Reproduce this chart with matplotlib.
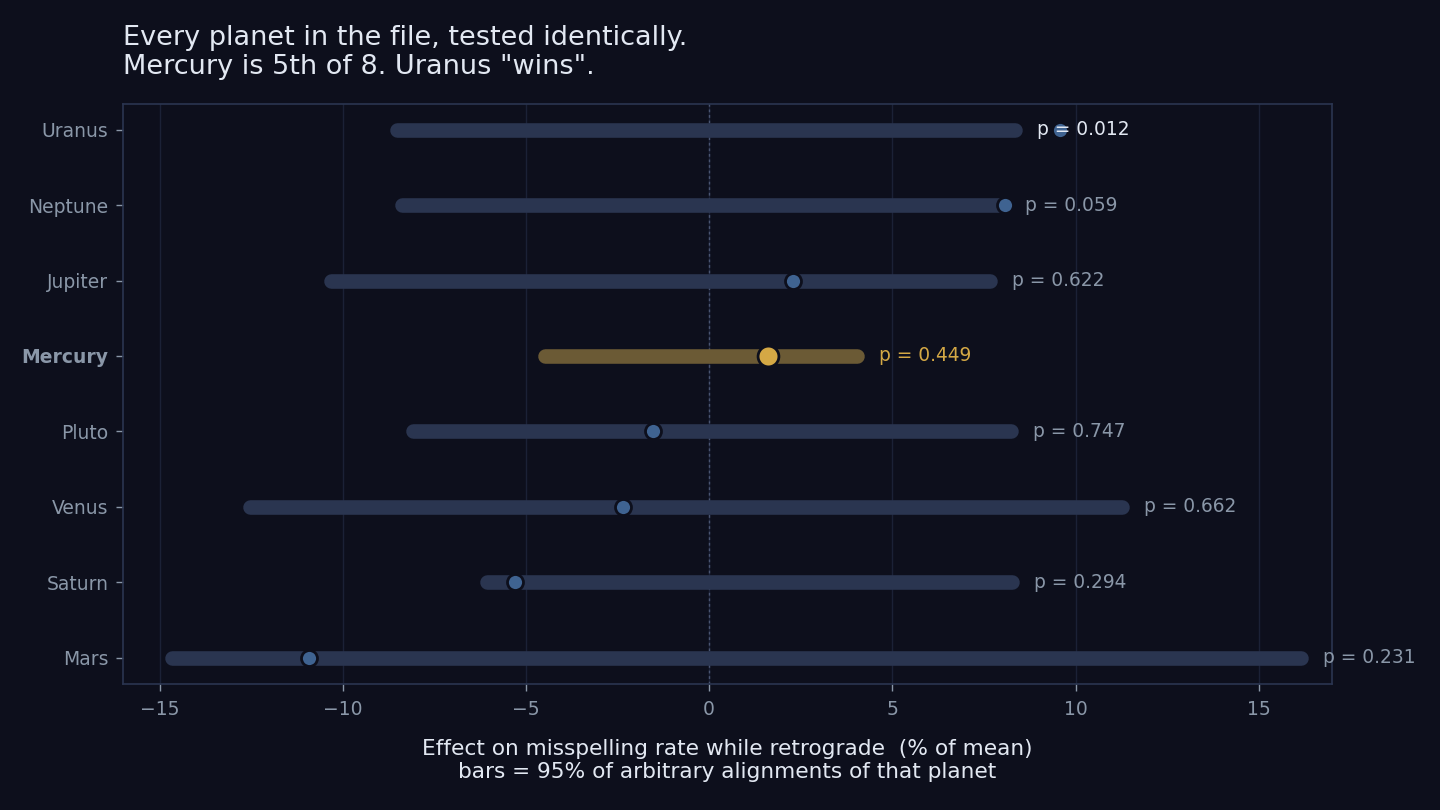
import numpy as np
import matplotlib.pyplot as plt

# planets bottom -> top
planets = ["Mars", "Saturn", "Venus", "Pluto", "Mercury", "Jupiter", "Neptune", "Uranus"]
lo = [-14.67, -6.07, -12.54, -8.09, -4.49, -10.33, -8.39, -8.53]
hi = [16.15, 8.26, 11.26, 8.23, 4.03, 7.66, 8.01, 8.34]
effect = [-10.93, -5.31, -2.36, -1.54, 1.60, 2.28, 8.07, 9.57]
pvals = [0.231, 0.294, 0.662, 0.747, 0.449, 0.622, 0.059, 0.012]

BG = "#0d0f1c"
BAR = "#2a3550"
DOT = "#3f6391"
GOLD = "#d4a845"
GOLD_BAR = "#6b5a35"
MUTED = "#8a97a8"
LIGHT = "#e2e8f2"
GRID = "#1b2136"

fig, ax = plt.subplots(figsize=(14.4, 8.1), dpi=100)
fig.patch.set_facecolor(BG)
ax.set_facecolor(BG)
fig.subplots_adjust(left=0.0854, right=0.925, top=0.872, bottom=0.156)

y = np.arange(len(planets))
for i, name in enumerate(planets):
    star = name == "Mercury"
    ax.plot([lo[i], hi[i]], [i, i], color=GOLD_BAR if star else BAR,
            lw=10.5, solid_capstyle="round", zorder=2)
    ax.plot(effect[i], i, "o", color=GOLD if star else DOT,
            markersize=15 if star else 11.5, markeredgecolor=BG,
            markeredgewidth=2, zorder=3)
    if star:
        c = GOLD
    elif pvals[i] < 0.05:
        c = LIGHT
    else:
        c = MUTED
    ax.text(hi[i] + 0.6, i, f"p = {pvals[i]:.3f}", color=c, fontsize=13.4,
            va="center", ha="left", zorder=4)

ax.axvline(0, color="#4a5572", lw=1, ls=(0, (2, 2)), zorder=1)

ax.set_xlim(-16, 17)
ax.set_ylim(-0.345, 7.345)
ax.set_xticks([-15, -10, -5, 0, 5, 10, 15])
ax.set_xticklabels(["\u221215", "\u221210", "\u22125", "0", "5", "10", "15"])
ax.set_yticks(y)
ax.set_yticklabels(planets)
for lab in ax.get_yticklabels():
    if lab.get_text() == "Mercury":
        lab.set_fontweight("bold")
ax.tick_params(colors=MUTED, labelsize=13.5, length=5, width=1)
ax.tick_params(axis="x", pad=7)
ax.tick_params(axis="y", pad=5.5)
ax.grid(axis="x", color=GRID, lw=1)
ax.set_axisbelow(True)
for s in ax.spines.values():
    s.set_color(BAR)
    s.set_linewidth(1.2)

ax.set_xlabel("Effect on misspelling rate while retrograde  (% of mean)\n"
              "bars = 95% of arbitrary alignments of that planet",
              color=LIGHT, fontsize=15.6, labelpad=14, linespacing=1.2)
fig.text(0.0854, 0.901, "Every planet in the file, tested identically.\n"
         "Mercury is 5th of 8. Uranus \"wins\".",
         color=LIGHT, fontsize=19.5, ha="left", va="bottom", linespacing=1.15)

fig.savefig("out.png", facecolor=BG)
